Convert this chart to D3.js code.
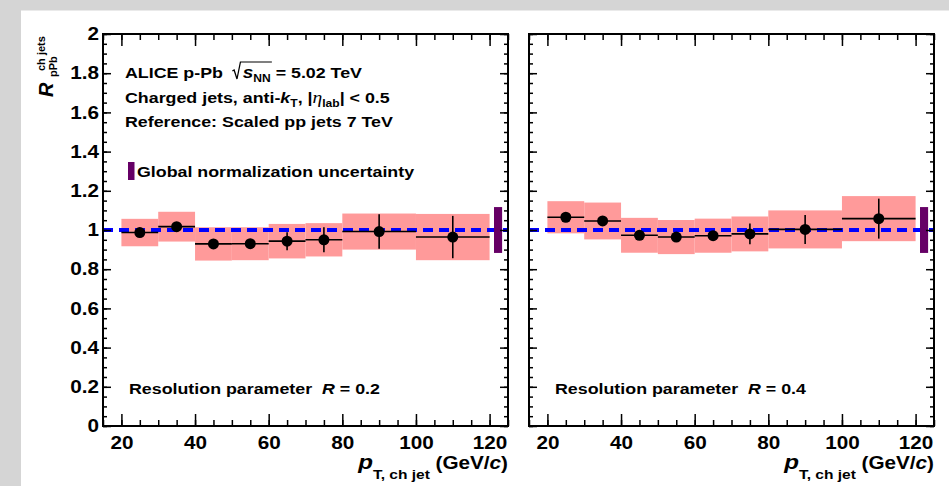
<!DOCTYPE html>
<html>
<head>
<meta charset="utf-8">
<script src="https://cdn.jsdelivr.net/npm/d3@7"></script>
<style>
body { margin: 0; background: #fff; }
text { font-family: "Liberation Sans", Arial, Helvetica, sans-serif; font-weight: bold; }
</style>
</head>
<body>
<div id="chart"></div>
<script>
// pT bins (GeV/c)
var binLo = [20, 30, 40, 50, 60, 70, 80, 100];
var binHi = [30, 40, 50, 60, 70, 80, 100, 120];
var ptCenter = [25, 35, 45, 55, 65, 75, 90, 110];

// R = 0.2
var rpPbR02 = [0.987, 1.017, 0.929, 0.930, 0.943, 0.950, 0.992, 0.964];
var statR02 = [0.008, 0.008, 0.010, 0.010, 0.046, 0.064, 0.088, 0.108];
var sysR02 = [0.070, 0.076, 0.085, 0.084, 0.088, 0.085, 0.092, 0.118];

// R = 0.4
var rpPbR04 = [1.065, 1.046, 0.973, 0.964, 0.971, 0.980, 1.003, 1.058];
var statR04 = [0.010, 0.010, 0.010, 0.012, 0.020, 0.053, 0.074, 0.102];
var sysR04 = [0.082, 0.094, 0.089, 0.087, 0.087, 0.089, 0.097, 0.115];

var globalNorm = 0.117;   // half height of the normalization box
var globalNormX = 122.3;  // where the box sits on the pT axis

var yMajor = [0, 0.2, 0.4, 0.6, 0.8, 1, 1.2, 1.4, 1.6, 1.8, 2];
var xMajor = [20, 40, 60, 80, 100, 120];

var attrs = {
    width: 949,
    height: 486,
    top: 34,
    bottom: 426,
    panels: [{ left: 103, right: 508 }, { left: 529, right: 934 }],
    xDomain: [15, 125],
    yDomain: [0, 2],
    sx: 1.15 // ROOT glyphs come out wider than Liberation Sans
};

var svg = d3.select("#chart").append("svg")
    .attr("width", attrs.width)
    .attr("height", attrs.height);

// grey canvas border
svg.append("rect").attr("x", 0).attr("y", 0).attr("width", attrs.width).attr("height", 10.5).attr("fill", "#d5d5d5");
svg.append("rect").attr("x", 0).attr("y", 0).attr("width", 21).attr("height", attrs.height).attr("fill", "#d5d5d5");

// text made of runs: {t, size, italic, dy, serif}
function label(parent, x, y, segs, anchor) {
    var g = parent.append("g").attr("transform", "translate(" + x + "," + y + ") scale(" + attrs.sx + ",1)");
    var t = g.append("text").attr("text-anchor", anchor || "start");
    var cur = 0;
    segs.forEach(function(s) {
        var dy = s.dy || 0;
        t.append("tspan")
            .attr("dy", dy - cur)
            .attr("font-size", s.size)
            .attr("font-style", s.italic ? "italic" : null)
            .attr("font-family", s.serif ? "'Liberation Serif', 'DejaVu Serif', serif" : null)
            .attr("font-weight", s.serif ? "normal" : null)
            .style("white-space", "pre")
            .text(s.t);
        cur = dy;
    });
    return { g: g, t: t };
}

function drawPanel(idx, vals, stat, sys, resText) {
    var p = attrs.panels[idx];
    var x = d3.scaleLinear().domain(attrs.xDomain).range([p.left, p.right]);
    var y = d3.scaleLinear().domain(attrs.yDomain).range([attrs.bottom, attrs.top]);
    var g = svg.append("g").attr("class", "panel" + idx);

    // systematic boxes
    g.selectAll(".sys").data(vals).enter().append("rect")
        .attr("class", "sys")
        .attr("x", function(d, i) { return x(binLo[i]); })
        .attr("width", function(d, i) { return x(binHi[i]) - x(binLo[i]); })
        .attr("y", function(d, i) { return y(d + sys[i]); })
        .attr("height", function(d, i) { return y(d - sys[i]) - y(d + sys[i]); })
        .attr("fill", "#ff9a9a");

    // unity line
    g.append("line")
        .attr("x1", x(attrs.xDomain[0])).attr("x2", x(attrs.xDomain[1]))
        .attr("y1", y(1)).attr("y2", y(1))
        .attr("stroke", "#0000ff").attr("stroke-width", 4)
        .attr("stroke-dasharray", "10,6");

    // global normalization uncertainty
    g.append("rect")
        .attr("x", x(globalNormX - 1.1))
        .attr("width", x(globalNormX + 1.1) - x(globalNormX - 1.1))
        .attr("y", y(1 + globalNorm))
        .attr("height", y(1 - globalNorm) - y(1 + globalNorm))
        .attr("fill", "#660066");

    // points with stat errors
    var pts = g.selectAll(".pt").data(vals).enter().append("g").attr("class", "pt");
    pts.append("line")
        .attr("x1", function(d, i) { return x(binLo[i]); })
        .attr("x2", function(d, i) { return x(binHi[i]); })
        .attr("y1", function(d) { return y(d); })
        .attr("y2", function(d) { return y(d); })
        .attr("stroke", "#000").attr("stroke-width", 1.6);
    pts.append("line")
        .attr("x1", function(d, i) { return x(ptCenter[i]); })
        .attr("x2", function(d, i) { return x(ptCenter[i]); })
        .attr("y1", function(d, i) { return y(d + stat[i]); })
        .attr("y2", function(d, i) { return y(d - stat[i]); })
        .attr("stroke", "#000").attr("stroke-width", 1.6);
    pts.append("circle")
        .attr("cx", function(d, i) { return x(ptCenter[i]); })
        .attr("cy", function(d) { return y(d); })
        .attr("r", 5.5)
        .attr("fill", "#000");

    // axes, ticks pointing inward on all four sides
    var yMinor = d3.range(0, 2.001, 0.05);
    var xMinor = d3.range(15, 125.001, 5);
    function tickStyle(sel) {
        sel.select(".domain").remove();
        sel.selectAll("line").attr("stroke", "#000").attr("stroke-width", 1.5);
    }
    g.append("g").attr("transform", "translate(" + p.left + ",0)")
        .call(d3.axisLeft(y).tickValues(yMinor).tickSize(-4).tickFormat(""))
        .call(tickStyle);
    var yAx = g.append("g").attr("transform", "translate(" + p.left + ",0)")
        .call(d3.axisLeft(y).tickValues(yMajor).tickSize(-8).tickPadding(4 / attrs.sx)
            .tickFormat(function(d) { return idx === 0 ? String(+d.toFixed(1)) : ""; }))
        .call(tickStyle);
    yAx.selectAll("text").attr("font-size", 18).attr("fill", "#000")
        .attr("font-family", "'Liberation Sans', Arial, sans-serif")
        .attr("transform", "scale(" + attrs.sx + ",1)");
    g.append("g").attr("transform", "translate(" + p.right + ",0)")
        .call(d3.axisRight(y).tickValues(yMinor).tickSize(-4).tickFormat(""))
        .call(tickStyle);
    g.append("g").attr("transform", "translate(" + p.right + ",0)")
        .call(d3.axisRight(y).tickValues(yMajor).tickSize(-8).tickFormat(""))
        .call(tickStyle);

    g.append("g").attr("transform", "translate(0," + attrs.bottom + ")")
        .call(d3.axisBottom(x).tickValues(xMinor).tickSize(-6).tickFormat(""))
        .call(tickStyle);
    var xAx = g.append("g").attr("transform", "translate(0," + attrs.bottom + ")")
        .call(d3.axisBottom(x).tickValues(xMajor).tickSize(-12).tickPadding(10).tickFormat(d3.format("d")))
        .call(tickStyle);
    xAx.selectAll("text").attr("font-size", 18).attr("fill", "#000")
        .attr("font-family", "'Liberation Sans', Arial, sans-serif")
        .attr("transform", "scale(" + attrs.sx + ",1)");
    g.append("g").attr("transform", "translate(0," + attrs.top + ")")
        .call(d3.axisTop(x).tickValues(xMinor).tickSize(-6).tickFormat(""))
        .call(tickStyle);
    g.append("g").attr("transform", "translate(0," + attrs.top + ")")
        .call(d3.axisTop(x).tickValues(xMajor).tickSize(-12).tickFormat(""))
        .call(tickStyle);

    // frame
    g.append("rect")
        .attr("x", p.left).attr("y", attrs.top)
        .attr("width", p.right - p.left).attr("height", attrs.bottom - attrs.top)
        .attr("fill", "none").attr("stroke", "#000").attr("stroke-width", 2);

    // resolution parameter
    label(g, p.left + 26, 394, [
        { t: "Resolution parameter  ", size: 15.5 },
        { t: "R", size: 15.5, italic: true },
        { t: " = " + resText, size: 15.5 }
    ]);

    // x axis title
    label(g, p.right, 469, [
        { t: "p", size: 21, italic: true },
        { t: "T, ch jet", size: 13.5, dy: 10 },
        { t: " (GeV/", size: 18, dy: 0 },
        { t: "c", size: 18, italic: true },
        { t: ")", size: 18 }
    ], "end");

    return { x: x, y: y, g: g };
}

drawPanel(0, rpPbR02, statR02, sysR02, "0.2");
drawPanel(1, rpPbR04, statR04, sysR04, "0.4");

// header text in the left panel
var lx = attrs.panels[0].left + 22;
var l1 = label(svg, lx, 78, [
    { t: "ALICE p-Pb    ", size: 15.5 },
    { t: "s", size: 16.5, italic: true },
    { t: "NN", size: 10.5, dy: 4 },
    { t: " = 5.02 TeV", size: 15.5, dy: 0 }
]);
// square root sign over s_NN
var tn = l1.t.node();
var xs = tn.getStartPositionOfChar(14).x;
var xe = tn.getEndPositionOfChar(16).x;
l1.g.append("path")
    .attr("d", "M" + (xs - 9) + ",-7 L" + (xs - 7.5) + ",-8 L" + (xs - 5) + ",1 L" + (xs - 2) + ",-16 L" + (xe + 1) + ",-16")
    .attr("fill", "none").attr("stroke", "#000").attr("stroke-width", 1.1);

label(svg, lx, 103, [
    { t: "Charged jets, anti-", size: 15.5 },
    { t: "k", size: 15.5, italic: true },
    { t: "T", size: 10.5, dy: 4 },
    { t: ", |", size: 15.5, dy: 0 },
    { t: "η", size: 17, italic: true, serif: true },
    { t: "lab", size: 10.5, dy: 4 },
    { t: "| < 0.5", size: 15.5, dy: 0 }
]);
label(svg, lx, 127, [{ t: "Reference: Scaled pp jets 7 TeV", size: 15.5 }]);

// legend for the normalization box
svg.append("rect").attr("x", attrs.panels[0].left + 25).attr("y", 162)
    .attr("width", 6.5).attr("height", 18).attr("fill", "#660066");
label(svg, attrs.panels[0].left + 34, 177, [{ t: "Global normalization uncertainty", size: 15.5 }]);

// y axis title, rotated
var yt = svg.append("g").attr("transform", "translate(53,97) rotate(-90)");
yt.append("text").attr("font-size", 20).attr("font-style", "italic").text("R");
yt.append("text").attr("x", 20).attr("y", 3.5).attr("font-size", 11).text("pPb");
yt.append("text").attr("x", 26).attr("y", -8.5).attr("font-size", 11).text("ch jets");
</script>
</body>
</html>
